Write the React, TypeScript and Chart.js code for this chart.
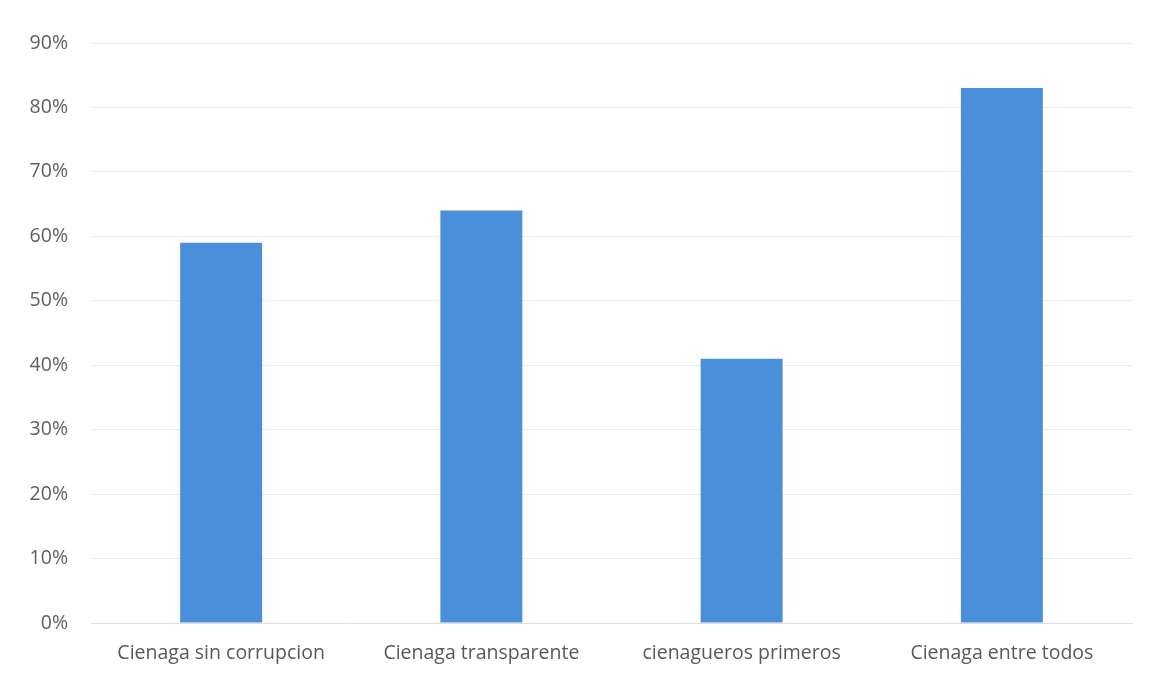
import React, { useEffect, useRef } from "react";
import { Chart, registerables } from "chart.js";

Chart.register(...registerables);

const categories = ["Cienaga sin corrupcion", "Cienaga transparente", "cienagueros primeros", "Cienaga entre todos"];
const values = [59, 64, 41, 83];
const yTicks = [0, 10, 20, 30, 40, 50, 60, 70, 80, 90];

export default function App() {
  const ref = useRef<HTMLCanvasElement | null>(null);
  useEffect(() => {
    document.body.style.margin = "0";
    const ctx = ref.current!.getContext("2d")!;
    const chart = new Chart(ctx, {
      type: "bar",
      data: {
        labels: categories,
        datasets: [
          {
            data: values,
            backgroundColor: "#4A8FDA",
            borderWidth: 0,
            barPercentage: 0.315,
            categoryPercentage: 1,
          },
        ],
      },
      options: {
        responsive: false,
        animation: false,
        plugins: { legend: { display: false }, tooltip: { enabled: false } },
        layout: { padding: { top: 43, right: 18, left: 0, bottom: 0 } },
        scales: {
          x: {
            grid: { display: false, drawTicks: false },
            border: { display: true, color: "#dedede", width: 1 },
            ticks: { color: "#595959", font: { family: "'Open Sans', sans-serif", size: 19.5 }, padding: 19, maxRotation: 0 },
            afterFit: (s: any) => { s.height = 56; },
          },
          y: {
            min: 0,
            max: 90,
            afterBuildTicks: (s: any) => { s.ticks = yTicks.map((v) => ({ value: v })); },
            grid: { color: "#ebebeb", drawTicks: false },
            border: { display: false },
            ticks: {
              color: "#606060",
              font: { family: "'Open Sans', sans-serif", size: 19.5 },
              padding: 23,
              callback: (v: any) => v + "%",
            },
            afterFit: (s: any) => { s.width = 91; },
          },
        },
      },
    });
    return () => chart.destroy();
  }, []);
  return (
    <div style={{ width: 1150, height: 679, background: "#fff" }}>
      <canvas ref={ref} width={1150} height={679} />
    </div>
  );
}
